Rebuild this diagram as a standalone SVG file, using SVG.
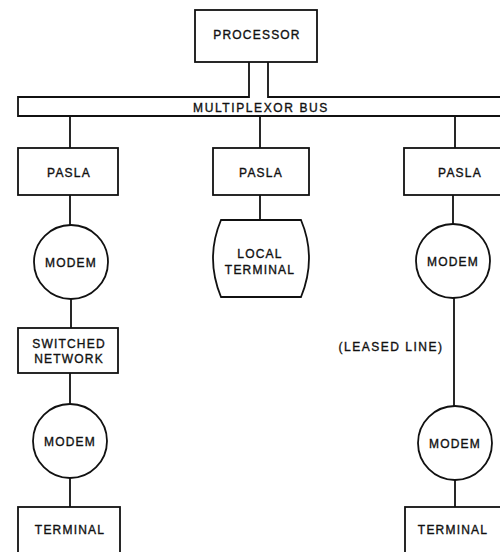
<svg xmlns="http://www.w3.org/2000/svg" width="500" height="552" viewBox="0 0 500 552">
<style>
.s{fill:none;stroke:#111;stroke-width:1.8}
.t{font-family:"Liberation Sans",Arial,sans-serif;font-size:12px;fill:#111;stroke:#111;stroke-width:0.35;text-anchor:middle;letter-spacing:1.2px}
</style>
<rect width="500" height="552" fill="#fff"/>
<g id="processor">
<rect class="s" x="195" y="10" width="122" height="52"/>
<text class="t" x="257" y="39">PROCESSOR</text>
</g>
<g id="bus">
<path class="s" d="M249,62 V97 H18 V116 H512 M268,62 V97 H512"/>
<text class="t" x="261" y="112" style="letter-spacing:1.6px">MULTIPLEXOR BUS</text>
</g>
<g id="pasla1">
<rect class="s" x="18" y="148" width="100" height="47"/>
<text class="t" x="69" y="177">PASLA</text>
</g>
<g id="pasla2">
<rect class="s" x="213" y="148" width="96" height="47"/>
<text class="t" x="261" y="177">PASLA</text>
</g>
<g id="pasla3">
<rect class="s" x="404" y="148" width="110" height="47"/>
<text class="t" x="460" y="177">PASLA</text>
</g>
<g id="modem1">
<circle class="s" cx="71" cy="262" r="37"/>
<text class="t" x="71" y="267">MODEM</text>
</g>
<g id="local-terminal">
<path class="s" d="M221,220 H301 Q317,258 301,297 H221 Q205,258 221,220 Z"/>
<text class="t" x="260" y="258">LOCAL</text>
<text class="t" x="260" y="274">TERMINAL</text>
</g>
<g id="modem3">
<circle class="s" cx="453" cy="261" r="37"/>
<text class="t" x="453" y="266">MODEM</text>
</g>
<g id="switched-network">
<rect class="s" x="18" y="328" width="100" height="45"/>
<text class="t" x="69" y="348">SWITCHED</text>
<text class="t" x="69" y="363">NETWORK</text>
</g>
<g id="leased-line">
<text class="t" x="391" y="351" style="letter-spacing:1.5px">(LEASED LINE)</text>
</g>
<g id="modem2">
<circle class="s" cx="70" cy="441" r="37"/>
<text class="t" x="70" y="446">MODEM</text>
</g>
<g id="modem4">
<circle class="s" cx="455" cy="443" r="37"/>
<text class="t" x="455" y="448">MODEM</text>
</g>
<g id="terminal1">
<rect class="s" x="18" y="507" width="102" height="60"/>
<text class="t" x="70" y="534">TERMINAL</text>
</g>
<g id="terminal2">
<rect class="s" x="405" y="507" width="110" height="60"/>
<text class="t" x="453" y="534">TERMINAL</text>
</g>
<g id="connectors">
<path class="s" d="M70,116 V148 M260,116 V148 M455,116 V148 M70,195 V225 M71,299 V328 M70,373 V404 M70,478 V507 M260,195 V220 M453,195 V224 M454,298 V406 M455,480 V507"/>
</g>
</svg>
